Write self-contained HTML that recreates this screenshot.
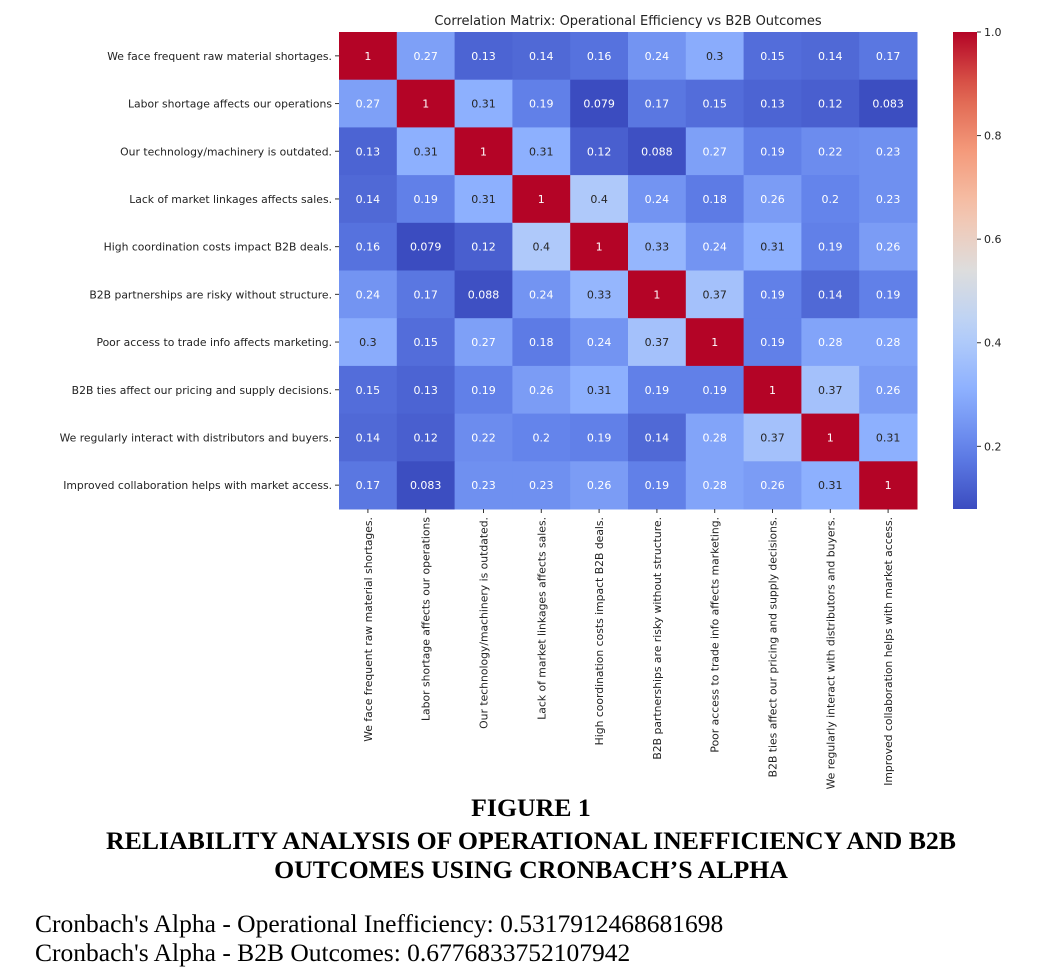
<!DOCTYPE html>
<html><head><meta charset="utf-8"><style>
body{margin:0;background:#fff;width:1054px;height:972px;overflow:hidden;position:relative}
svg{position:absolute;left:0;top:0}
.cap{position:absolute;left:0;width:1062px;text-align:center;font:bold 25.8px "Liberation Serif",serif;color:#000;line-height:30px;white-space:nowrap}
.al{position:absolute;left:35px;font:25.5px "Liberation Serif",serif;color:#000;white-space:nowrap;line-height:28px}
</style></head><body>
<svg id="s" width="1054" height="800" xmlns="http://www.w3.org/2000/svg"></svg>
<div class="cap" style="top:793px">FIGURE 1</div>
<div class="cap" style="top:826px">RELIABILITY ANALYSIS OF OPERATIONAL INEFFICIENCY AND B2B</div>
<div class="cap" style="top:855px">OUTCOMES USING CRONBACH’S ALPHA</div>
<div class="al" style="top:910px">Cronbach's Alpha - Operational Inefficiency: 0.5317912468681698</div>
<div class="al" style="top:939px">Cronbach's Alpha - B2B Outcomes: 0.6776833752107942</div>
<script>
const L=["We face frequent raw material shortages.","Labor shortage affects our operations","Our technology/machinery is outdated.","Lack of market linkages affects sales.","High coordination costs impact B2B deals.","B2B partnerships are risky without structure.","Poor access to trade info affects marketing.","B2B ties affect our pricing and supply decisions.","We regularly interact with distributors and buyers.","Improved collaboration helps with market access."];
const M=[[1,.27,.13,.14,.16,.24,.3,.15,.14,.17],[.27,1,.31,.19,.079,.17,.15,.13,.12,.083],[.13,.31,1,.31,.12,.088,.27,.19,.22,.23],[.14,.19,.31,1,.4,.24,.18,.26,.2,.23],[.16,.079,.12,.4,1,.33,.24,.31,.19,.26],[.24,.17,.088,.24,.33,1,.37,.19,.14,.19],[.3,.15,.27,.18,.24,.37,1,.19,.28,.28],[.15,.13,.19,.26,.31,.19,.19,1,.37,.26],[.14,.12,.22,.2,.19,.14,.28,.37,1,.31],[.17,.083,.23,.23,.26,.19,.28,.26,.31,1]];
const A=[[59,76,192],[98,130,234],[141,176,254],[184,208,249],[221,221,221],[245,196,173],[244,154,123],[222,96,77],[180,4,38]];
const vmin=0.079,vmax=1;
function col(v){let t=(v-vmin)/(vmax-vmin);t=Math.max(0,Math.min(1,t))*8;let i=Math.min(7,Math.floor(t)),f=t-i;return A[i].map((a,k)=>Math.round(a+(A[i+1][k]-a)*f));}
function rgb(c){return `rgb(${c[0]},${c[1]},${c[2]})`}
function relLum(c){const l=c.map(x=>{x/=255;return x<=0.03928?x/12.92:Math.pow((x+0.055)/1.055,2.4)});return 0.2126*l[0]+0.7152*l[1]+0.0722*l[2];}
const x0=339,y0=32,W=57.8,H=47.7;let s='';
const F='font-family="DejaVu Sans, Liberation Sans, sans-serif"';
s+=`<text x="628" y="25" ${F} font-size="13" text-anchor="middle" fill="#222">Correlation Matrix: Operational Efficiency vs B2B Outcomes</text>`;
for(let r=0;r<10;r++)for(let c=0;c<10;c++){let v=M[r][c],cl=col(v);let x=x0+c*W,y=y0+r*H;
s+=`<rect x="${x}" y="${y}" width="${W+0.5}" height="${H+0.5}" fill="${rgb(cl)}"/>`;
s+=`<text x="${x+W/2}" y="${y+H/2+4}" ${F} font-size="11" text-anchor="middle" fill="${relLum(cl)<0.408?'#fff':'#262626'}">${v}</text>`;}
for(let i=0;i<10;i++){let y=y0+i*H+H/2;
s+=`<line x1="${x0-4}" x2="${x0}" y1="${y}" y2="${y}" stroke="#333"/>`;
s+=`<text x="${x0-7}" y="${y+4}" ${F} font-size="10.8" text-anchor="end" fill="#222">${L[i]}</text>`;
let x=x0+i*W+W/2;
s+=`<line x1="${x}" x2="${x}" y1="${y0+10*H}" y2="${y0+10*H+4}" stroke="#333"/>`;
s+=`<text transform="translate(${x+4},${y0+10*H+8}) rotate(-90)" ${F} font-size="10.8" text-anchor="end" fill="#222">${L[i]}</text>`;}
s+='<defs><linearGradient id="g" x1="0" y1="1" x2="0" y2="0">';
for(let k=0;k<=20;k++){let v=vmin+(vmax-vmin)*k/20;s+=`<stop offset="${k/20}" stop-color="${rgb(col(v))}"/>`;}
s+='</linearGradient></defs>';
s+=`<rect x="953" y="${y0}" width="24" height="${10*H}" fill="url(#g)"/>`;
[0.2,0.4,0.6,0.8,1.0].forEach(v=>{let y=y0+10*H-(v-vmin)/(vmax-vmin)*10*H;
s+=`<line x1="977" x2="981" y1="${y}" y2="${y}" stroke="#333"/><text x="984" y="${y+4}" ${F} font-size="11" fill="#222">${v.toFixed(1)}</text>`;});
document.getElementById('s').innerHTML=s;
</script>
</body></html>
